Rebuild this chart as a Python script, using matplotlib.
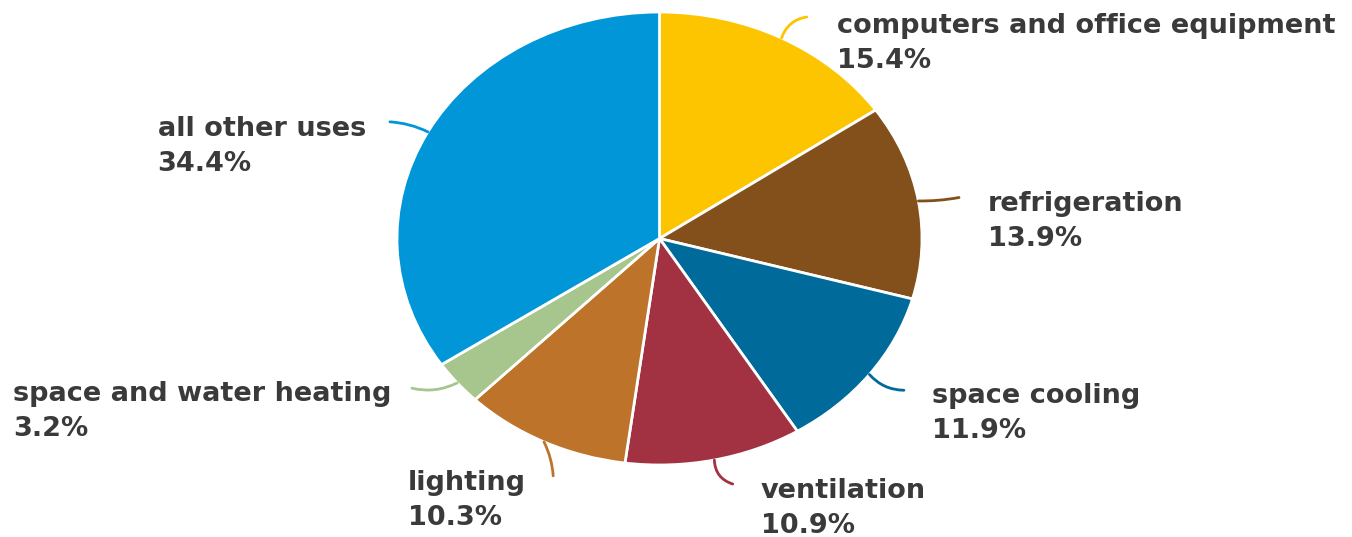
import numpy as np
import matplotlib.pyplot as plt

# Share of electricity use by end use
labels = ['computers and office equipment', 'refrigeration', 'space cooling',
          'ventilation', 'lighting', 'space and water heating', 'all other uses']
shares = [15.4, 13.9, 11.9, 10.9, 10.3, 3.2, 34.4]
colors = ['#FDC500', '#83501C', '#006A9A', '#A23141', '#BD732A', '#A7C68D', '#0096D7']

# layout: end of each leader line, label top-left corner (pie data units), curve bend
line_ends = [(0.561, 0.978), (1.141, 0.181), (0.931, -0.670), (0.279, -1.084),
             (-0.405, -1.048), (-0.943, -0.661), (-1.027, 0.515)]
text_pos = [(0.676, 0.995), (1.252, 0.21), (1.038, -0.640), (0.385, -1.058),
            (-0.958, -1.023), (-2.462, -0.631), (-1.912, 0.541)]
bends = [0.3, -0.05, -0.22, -0.35, 0.1, 0.18, -0.1]

fig = plt.figure(figsize=(13.52, 5.37), dpi=100)
ax = fig.add_axes([397 / 1352, 72 / 537, 525 / 1352, 453 / 537])

wedges, _ = ax.pie(shares, colors=colors, startangle=90, counterclock=False, radius=1,
                   wedgeprops=dict(edgecolor='white', linewidth=2))
ax.set_aspect('auto')
ax.set_xlim(-1, 1)
ax.set_ylim(-1, 1)
ax.axis('off')

for w, lab, val, end, pos, rad in zip(wedges, labels, shares, line_ends, text_pos, bends):
    mid = np.deg2rad((w.theta1 + w.theta2) / 2)
    edge = (np.cos(mid), np.sin(mid))
    ax.annotate('', xy=edge, xytext=end, annotation_clip=False,
                arrowprops=dict(arrowstyle='-', color=w.get_facecolor(), lw=2,
                                shrinkA=0, shrinkB=0,
                                connectionstyle='arc3,rad=%s' % rad))
    ax.text(pos[0], pos[1], '%s\n%.1f%%' % (lab, val), ha='left', va='top',
            fontsize=19.5, fontweight='bold', color='#3a3a3a', family='DejaVu Sans',
            linespacing=1.45, clip_on=False)

plt.savefig('out.png', dpi=100)
